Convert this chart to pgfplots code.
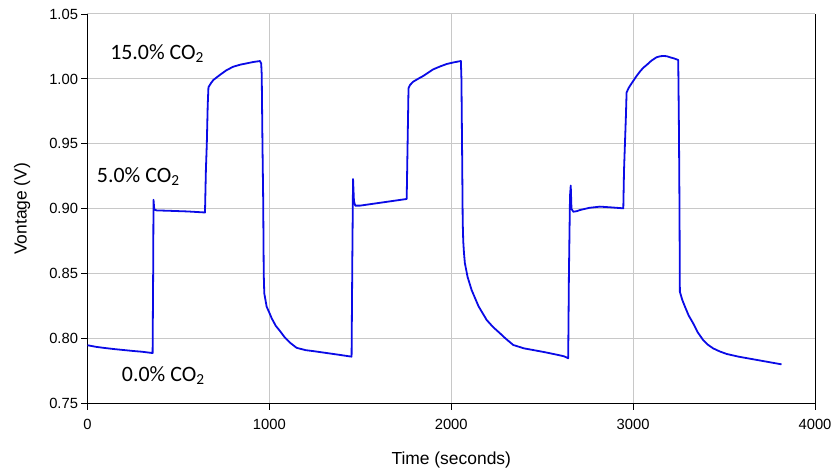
\documentclass[border=0pt]{standalone}
\usepackage{pgfplots}
\pgfplotsset{compat=1.18}
\usepackage{fontspec}
\setmainfont{Liberation Sans}
\newfontfamily\cali{Carlito}
\definecolor{curve}{RGB}{10,10,230}
\definecolor{gridc}{RGB}{200,200,200}
\pgfplotstableread{
x y
0 0.7950
50 0.7937
100 0.7928
150 0.7920
200 0.7913
250 0.7906
300 0.7900
340 0.7893
358 0.7890
361 0.8500
363 0.9070
367 0.8995
380 0.8988
450 0.8985
550 0.8980
646 0.8972
651 0.9300
656 0.9500
661 0.9800
665 0.9936
680 0.9970
692 0.9992
728 1.0031
765 1.0068
801 1.0094
840 1.0110
875 1.0120
910 1.0130
948 1.0138
955 1.0120
958 1.0030
962 0.9500
966 0.9070
969 0.8500
972 0.8350
985 0.8247
1000 0.8200
1013 0.8157
1035 0.8100
1058 0.8060
1085 0.8010
1113 0.7970
1150 0.7930
1200 0.7912
1241 0.7905
1300 0.7893
1350 0.7883
1400 0.7873
1452 0.7862
1456 0.8600
1460 0.9230
1465 0.9060
1472 0.9025
1500 0.9025
1550 0.9035
1600 0.9045
1650 0.9055
1700 0.9065
1755 0.9076
1760 0.9500
1765 0.9928
1773 0.9953
1791 0.9979
1820 1.0003
1846 1.0023
1875 1.0050
1901 1.0074
1940 1.0097
1975 1.0115
2015 1.0128
2053 1.0138
2056 1.0000
2060 0.9400
2063 0.8900
2066 0.8750
2070 0.8660
2075 0.8581
2090 0.8475
2112 0.8375
2150 0.8250
2195 0.8144
2230 0.8090
2268 0.8042
2300 0.8000
2341 0.7952
2400 0.7926
2451 0.7913
2520 0.7895
2588 0.7875
2620 0.7865
2643 0.7850
2647 0.8500
2653 0.9100
2657 0.9180
2661 0.9000
2671 0.8978
2690 0.8982
2708 0.8991
2760 0.9008
2817 0.9017
2872 0.9012
2946 0.9004
2950 0.9300
2955 0.9500
2960 0.9700
2964 0.9895
2975 0.9930
2992 0.9967
3015 1.0015
3037 1.0056
3055 1.0085
3074 1.0107
3100 1.0140
3129 1.0167
3150 1.0175
3166 1.0177
3185 1.0175
3202 1.0167
3225 1.0158
3248 1.0146
3252 0.9600
3255 0.9000
3257 0.8362
3270 0.8300
3285 0.8247
3305 0.8180
3330 0.8119
3355 0.8050
3385 0.7990
3410 0.7955
3440 0.7926
3475 0.7903
3514 0.7883
3580 0.7862
3660 0.7842
3740 0.7822
3816 0.7803
}\voltdata
\begin{document}
\begin{tikzpicture}
\useasboundingbox (-87.5bp,-65.3bp) rectangle (747.5bp,403.7bp);
\begin{axis}[
  scale only axis, width=727.5bp, height=389.7bp,
  xmin=0, xmax=4000, ymin=0.75, ymax=1.05,
  xtick={0,1000,2000,3000,4000},
  ytick={0.75,0.80,0.85,0.90,0.95,1.00,1.05},
  yticklabel style={/pgf/number format/.cd,fixed,fixed zerofill,precision=2},
  xticklabel style={yshift=-6bp},
  /pgf/number format/1000 sep={},
  /pgf/number format/assume math mode=true,
  axis x line*=bottom, axis y line*=box,
  ytick pos=left,
  tick align=outside,
  major tick length=6bp,
  grid=major,
  major grid style={gridc, line width=1bp},
  axis line style={black, line width=0.9bp},
  tick style={black, line width=0.9bp},
  ticklabel style={font=\fontsize{14.8}{17}\selectfont},
  xlabel={Time (seconds)}, ylabel={Vontage (V)},
  label style={font=\fontsize{17.5}{20}\selectfont},
  xlabel style={at={(axis description cs:0.5,-0.1555)}, anchor=base},
  ylabel style={at={(axis description cs:-0.0836,0.5)}, anchor=base},
]
\addplot[curve, line width=1.8bp, line join=round] table[x=x,y=y] {\voltdata};
\node[anchor=base west, inner sep=0pt, font=\cali\fontsize{22}{26}\selectfont] at (axis cs:124,1.0151) {15.0\% CO\textsubscript{2}};
\node[anchor=base west, inner sep=0pt, font=\cali\fontsize{22}{26}\selectfont] at (axis cs:51,0.9201) {5.0\% CO\textsubscript{2}};
\node[anchor=base west, inner sep=0pt, font=\cali\fontsize{22}{26}\selectfont] at (axis cs:188,0.7669) {0.0\% CO\textsubscript{2}};
\end{axis}
\end{tikzpicture}
\end{document}
